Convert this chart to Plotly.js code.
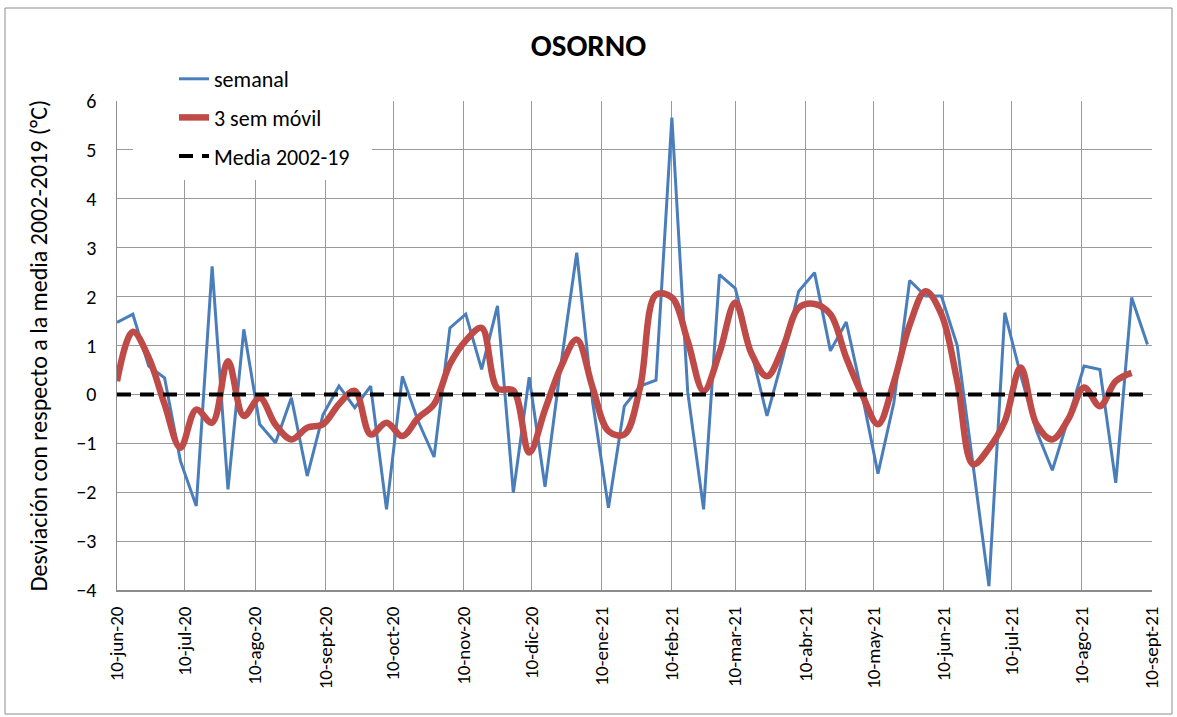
<!DOCTYPE html>
<html>
<head>
<meta charset="utf-8">
<script src="https://cdn.plot.ly/plotly-3.0.1.min.js"></script>
<style>
  html, body { margin: 0; padding: 0; background: #ffffff; }
  #chart { width: 1177px; height: 717px; }
</style>
</head>
<body>
<div id="chart"></div>
<script>
// ---- Data ----
const weekDates = [
  "2020-06-10","2020-06-17","2020-06-24","2020-07-01","2020-07-08","2020-07-15","2020-07-22","2020-07-29",
  "2020-08-05","2020-08-12","2020-08-19","2020-08-26","2020-09-02","2020-09-09","2020-09-16","2020-09-23",
  "2020-09-30","2020-10-07","2020-10-14","2020-10-21","2020-10-28","2020-11-04","2020-11-11","2020-11-18",
  "2020-11-25","2020-12-02","2020-12-09","2020-12-16","2020-12-23","2020-12-30","2021-01-06","2021-01-13",
  "2021-01-20","2021-01-27","2021-02-03","2021-02-10","2021-02-17","2021-02-24","2021-03-03","2021-03-10",
  "2021-03-17","2021-03-24","2021-03-31","2021-04-07","2021-04-14","2021-04-21","2021-04-28","2021-05-05",
  "2021-05-12","2021-05-19","2021-05-26","2021-06-02","2021-06-09","2021-06-16","2021-06-23","2021-06-30",
  "2021-07-07","2021-07-14","2021-07-21","2021-07-28","2021-08-04","2021-08-11","2021-08-18","2021-08-25",
  "2021-09-01","2021-09-08"
];

const semanal = [
  1.47, 1.64, 0.58, 0.34, -1.36, -2.28, 2.62, -1.94,
  1.33, -0.61, -0.99, -0.07, -1.67, -0.41, 0.17, -0.27,
  0.17, -2.35, 0.37, -0.55, -1.28, 1.36, 1.64, 0.51,
  1.81, -2.01, 0.35, -1.89, 0.60, 2.90, -0.15, -2.32,
  -0.24, 0.17, 0.29, 5.66, 0.05, -2.35, 2.45, 2.17,
  0.90, -0.44, 0.75, 2.11, 2.49, 0.89, 1.48, 0.00,
  -1.62, -0.17, 2.33, 2.01, 2.01, 1.00, -1.45, -3.92,
  1.67, 0.40, -0.75, -1.55, -0.50, 0.58, 0.51, -1.81,
  1.98, 1.02
];

const movil3 = [
  0.27, 1.28, 0.75, -0.20, -1.09, -0.31, -0.58, 0.68,
  -0.44, -0.07, -0.62, -0.92, -0.68, -0.61, -0.20, 0.07,
  -0.82, -0.58, -0.85, -0.48, -0.20, 0.62, 1.10, 1.36,
  0.12, 0.08, -1.19, -0.31, 0.56, 1.12, 0.14, -0.75,
  -0.82, 0.15, 2.04, 1.98, 1.09, 0.07, 0.85, 1.88,
  0.85, 0.37, 0.95, 1.77, 1.85, 1.64, 0.75, 0.00,
  -0.61, 0.25, 1.42, 2.11, 1.64, 0.27, -1.43, -1.10,
  -0.55, 0.55, -0.61, -0.92, -0.51, 0.14, -0.24, 0.27,
  0.44
];

const media = [
  0,0,0,0,0,0,0,0, 0,0,0,0,0,0,0,0, 0,0,0,0,0,0,0,0, 0,0,0,0,0,0,0,0,
  0,0,0,0,0,0,0,0, 0,0,0,0,0,0,0,0, 0,0,0,0,0,0,0,0, 0,0,0,0,0,0,0,0,
  0,0
];

const tickDates = [
  "2020-06-10","2020-07-10","2020-08-10","2020-09-10","2020-10-10","2020-11-10","2020-12-10","2021-01-10",
  "2021-02-10","2021-03-10","2021-04-10","2021-05-10","2021-06-10","2021-07-10","2021-08-10","2021-09-10"
];
const tickLabels = [
  "10-jun-20","10-jul-20","10-ago-20","10-sept-20","10-oct-20","10-nov-20","10-dic-20","10-ene-21",
  "10-feb-21","10-mar-21","10-abr-21","10-may-21","10-jun-21","10-jul-21","10-ago-21","10-sept-21"
];
const yTicks = [-4, -3, -2, -1, 0, 1, 2, 3, 4, 5, 6];

// ---- Layout helpers (pixel -> paper) ----
const W = 1177, H = 717;
const M = { l: 117, r: 25, t: 101, b: 127 };
const PW = W - M.l - M.r, PH = H - M.t - M.b;
const px = x => (x - M.l) / PW;
const py = y => (H - M.b - y) / PH;

const FONT = "Carlito, Lato, 'Liberation Sans', sans-serif";

const traces = [
  {
    x: weekDates, y: semanal, name: "semanal", type: "scatter", mode: "lines",
    line: { color: "#4A7EBB", width: 3 }, legendgroup: "a"
  },
  {
    x: weekDates.slice(0, movil3.length), y: movil3, name: "3 sem móvil", type: "scatter", mode: "lines",
    line: { color: "#BE4B48", width: 6.5, shape: "spline", smoothing: 1 }, legendgroup: "b"
  },
  {
    x: weekDates, y: media, name: "Media 2002-19", type: "scatter", mode: "lines",
    line: { color: "#000000", width: 4, dash: "14px,9px" }, legendgroup: "c"
  }
];

const layout = {
  width: W, height: H,
  margin: { l: M.l, r: M.r, t: M.t, b: M.b, pad: 0 },
  paper_bgcolor: "#ffffff", plot_bgcolor: "#ffffff",
  font: { family: FONT, size: 20, color: "#000000" },
  title: {
    text: "<b>OSORNO</b>", font: { family: FONT, size: 31, color: "#000000" },
    xref: "container", x: 0.5, xanchor: "center",
    yref: "container", y: 1 - 45 / H, yanchor: "middle"
  },
  showlegend: true,
  legend: {
    x: px(174), xanchor: "left", y: py(58), yanchor: "top",
    bgcolor: "rgba(255,255,255,1)", borderwidth: 0,
    font: { family: FONT, size: 22, color: "#000000" },
    tracegroupgap: 7, traceorder: "grouped"
  },
  xaxis: {
    type: "date",
    range: ["2020-06-10", "2021-09-10"],
    tickmode: "array", tickvals: tickDates, ticktext: tickLabels,
    tickangle: -90, ticks: "", ticklabelstandoff: 7,
    tickfont: { family: FONT, size: 19, color: "#000000" },
    showgrid: true, gridcolor: "#999999", gridwidth: 1,
    showline: true, linecolor: "#8c8c8c", linewidth: 2,
    zeroline: false, fixedrange: true
  },
  yaxis: {
    range: [-4, 6],
    tickmode: "array", tickvals: yTicks,
    ticks: "", ticklabelstandoff: 15,
    tickfont: { family: FONT, size: 20, color: "#000000" },
    showgrid: true, gridcolor: "#999999", gridwidth: 1,
    showline: true, linecolor: "#8c8c8c", linewidth: 1.5,
    zeroline: false, fixedrange: true,
    title: {
      text: "Desviación con respecto a la media 2002-2019 (°C)",
      font: { family: FONT, size: 24, color: "#000000" },
      standoff: 22
    }
  },
  shapes: [
    // white area behind the legend hiding gridlines
    {
      type: "rect", xref: "paper", yref: "paper", layer: "above",
      x0: px(133), x1: px(372), y0: py(180), y1: py(97),
      fillcolor: "#ffffff", line: { width: 0 }
    },
    // outer chart border
    {
      type: "rect", xref: "paper", yref: "paper", layer: "above",
      x0: px(5), x1: px(1172), y0: py(714), y1: py(8),
      fillcolor: "rgba(0,0,0,0)", line: { color: "#8c8c8c", width: 1 }
    }
  ]
};

Plotly.newPlot("chart", traces, layout, { displayModeBar: false, staticPlot: true });
</script>
</body>
</html>
